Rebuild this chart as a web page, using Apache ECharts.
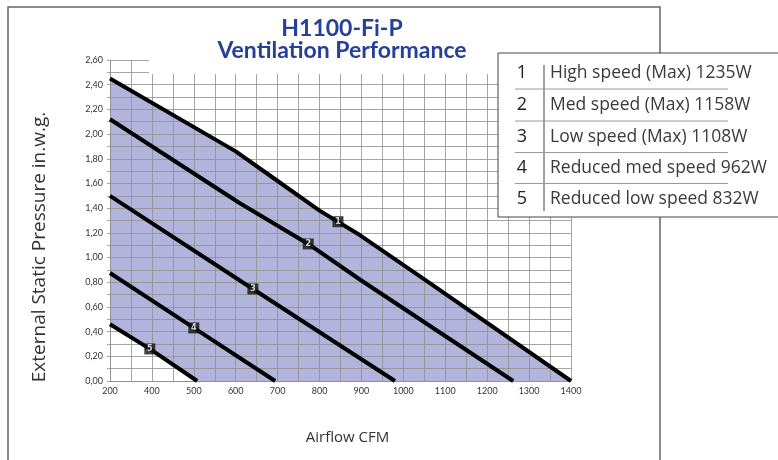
<!DOCTYPE html>
<html>
<head>
<meta charset="utf-8">
<title>H1100-Fi-P Ventilation Performance</title>
<script src="https://cdn.jsdelivr.net/npm/echarts@6/dist/echarts.min.js"></script>
<style>
  html, body { margin: 0; padding: 0; background: #fff; }
  #main { width: 778px; height: 460px; }
</style>
</head>
<body>
<div id="main"></div>
<script>
// curves: [airflow CFM, pressure in.w.g.]
var curveHigh = [[300, 2.45], [600, 1.86], [700, 1.62], [800, 1.38], [897, 1.18], [1064, 0.79], [1400, 0]];
var curveMed = [[300, 2.12], [610, 1.44], [773, 1.11], [897, 0.82], [1262, 0]];
var curveLow = [[300, 1.50], [641, 0.745], [980, 0]];
var curveRedMed = [[300, 0.875], [500, 0.43], [694, 0]];
var curveRedLow = [[300, 0.46], [395, 0.26], [508, 0]];
var curves = [curveHigh, curveMed, curveLow, curveRedMed, curveRedLow];

// numbered markers on the curves
var markerPoints = [[844, 1.29, '1'], [773, 1.11, '2'], [641, 0.745, '3'], [500, 0.43, '4'], [395, 0.26, '5']];

// x tick labels (the first gridline is printed as 200 on the original)
var xTickLabels = ['200', '400', '500', '600', '700', '800', '900', '1000', '1100', '1200', '1300', '1400'];

var legendNums = ['1', '2', '3', '4', '5'];
var legendLabels = ['High speed (Max) 1235W', 'Med speed (Max) 1158W', 'Low speed (Max) 1108W',
  'Reduced med speed 962W', 'Reduced low speed 832W'];

var myChart = echarts.init(document.getElementById('main'));

var gridColor = 'rgba(143,143,143,0.8)';

var series = [
  // lavender fill under the top curve
  {
    type: 'line', data: curveHigh, symbol: 'none', z: 1, silent: true,
    lineStyle: { width: 0 },
    areaStyle: { color: '#b2b4dc', opacity: 1 }
  },
  // white under the lowest curve
  {
    type: 'line', data: curveRedLow, symbol: 'none', z: 2, silent: true,
    lineStyle: { width: 0 },
    areaStyle: { color: '#ffffff', opacity: 1 }
  }
];
for (var i = 0; i < curves.length; i++) {
  series.push({
    name: legendLabels[i],
    type: 'line',
    data: curves[i],
    symbol: 'none',
    z: 5,
    lineStyle: { color: '#000', width: 4 }
  });
}
series.push({
  type: 'scatter',
  data: markerPoints,
  symbol: 'rect',
  symbolSize: 11,
  z: 6,
  itemStyle: { color: '#111' },
  label: {
    show: true, position: 'inside', color: '#fff', fontSize: 8, fontWeight: 'bold',
    fontFamily: 'DejaVu Sans',
    formatter: function (p) { return p.data[2]; }
  }
});

// legend box drawn as graphics
var lgX = 498, lgY = 53;
var legendGraphics = [
  { type: 'rect', shape: { x: lgX, y: lgY, width: 290, height: 164 },
    style: { fill: '#fff', stroke: '#444', lineWidth: 1 }, z: 10 },
  { type: 'line', shape: { x1: 544, y1: 65, x2: 544, y2: 211 },
    style: { stroke: '#444', lineWidth: 1 }, z: 11 }
];
var rowY = [73, 105, 137, 168, 199];
for (var k = 0; k < legendNums.length; k++) {
  legendGraphics.push({
    type: 'text', x: 522, y: rowY[k], z: 11,
    style: { text: legendNums[k], fill: '#222', font: '18px "Open Sans"', textAlign: 'center', textVerticalAlign: 'middle' }
  });
  legendGraphics.push({
    type: 'text', x: 550, y: rowY[k], z: 11,
    style: { text: legendLabels[k], fill: '#3a3a3a', font: '17.5px "Open Sans"', textAlign: 'left', textVerticalAlign: 'middle' }
  });
  if (k < legendNums.length - 1) {
    legendGraphics.push({
      type: 'line', shape: { x1: 515, y1: (rowY[k] + rowY[k + 1]) / 2, x2: 728, y2: (rowY[k] + rowY[k + 1]) / 2 },
      style: { stroke: '#999', lineWidth: 1 }, z: 11
    });
  }
}

var option = {
  animation: false,
  title: {
    text: 'H1100-Fi-P\nVentilation Performance',
    left: 337,
    top: 13,
    textAlign: 'center',
    textStyle: {
      color: '#26409a', fontSize: 23, fontWeight: 'bold', fontFamily: 'Lato', lineHeight: 22
    },
    z: 8
  },
  grid: { left: 110, top: 60, width: 461, height: 321 },
  xAxis: {
    type: 'value', min: 300, max: 1400, interval: 50, z: 3,
    name: 'Airflow CFM', nameLocation: 'middle', nameGap: 49,
    nameTextStyle: { color: '#333', fontSize: 15, fontFamily: 'Open Sans', padding: [0, 0, 0, 14] },
    axisLine: { show: true, lineStyle: { color: gridColor } },
    axisTick: { show: false },
    splitLine: { show: true, lineStyle: { color: gridColor, width: 1 } },
    axisLabel: {
      color: '#333', fontSize: 9, fontFamily: 'Lato', margin: 6,
      formatter: function (v) {
        if (v % 100 !== 0) return '';
        return xTickLabels[(v - 300) / 100];
      }
    }
  },
  yAxis: {
    type: 'value', min: 0, max: 2.6, interval: 0.1, z: 3,
    axisLine: { show: true, lineStyle: { color: gridColor } },
    axisTick: { show: true, length: 3, lineStyle: { color: gridColor } },
    splitLine: { show: true, lineStyle: { color: gridColor, width: 1 } },
    axisLabel: {
      color: '#333', fontSize: 9, fontFamily: 'Lato', margin: 7,
      formatter: function (v) {
        var t = Math.round(v * 10);
        if (t % 2 !== 0) return '';
        return (t / 10).toFixed(2).replace('.', ',');
      }
    }
  },
  graphic: [
    // outer frame
    { type: 'rect', shape: { x: 8, y: 7, width: 652, height: 470 },
      style: { fill: 'none', stroke: '#666', lineWidth: 1.5 }, z: 0, silent: true },
    // white backing behind the title
    { type: 'rect', shape: { x: 149, y: 9, width: 349, height: 65 },
      style: { fill: '#fff' }, z: 4, silent: true },
    // y axis title
    { type: 'text', x: 40, y: 247, rotation: Math.PI / 2, z: 4,
      style: { text: 'External Static Pressure in.w.g.', fill: '#333', font: '19px "Open Sans"',
        textAlign: 'center', textVerticalAlign: 'middle' } }
  ].concat(legendGraphics),
  series: series
};

myChart.setOption(option);
</script>
</body>
</html>
